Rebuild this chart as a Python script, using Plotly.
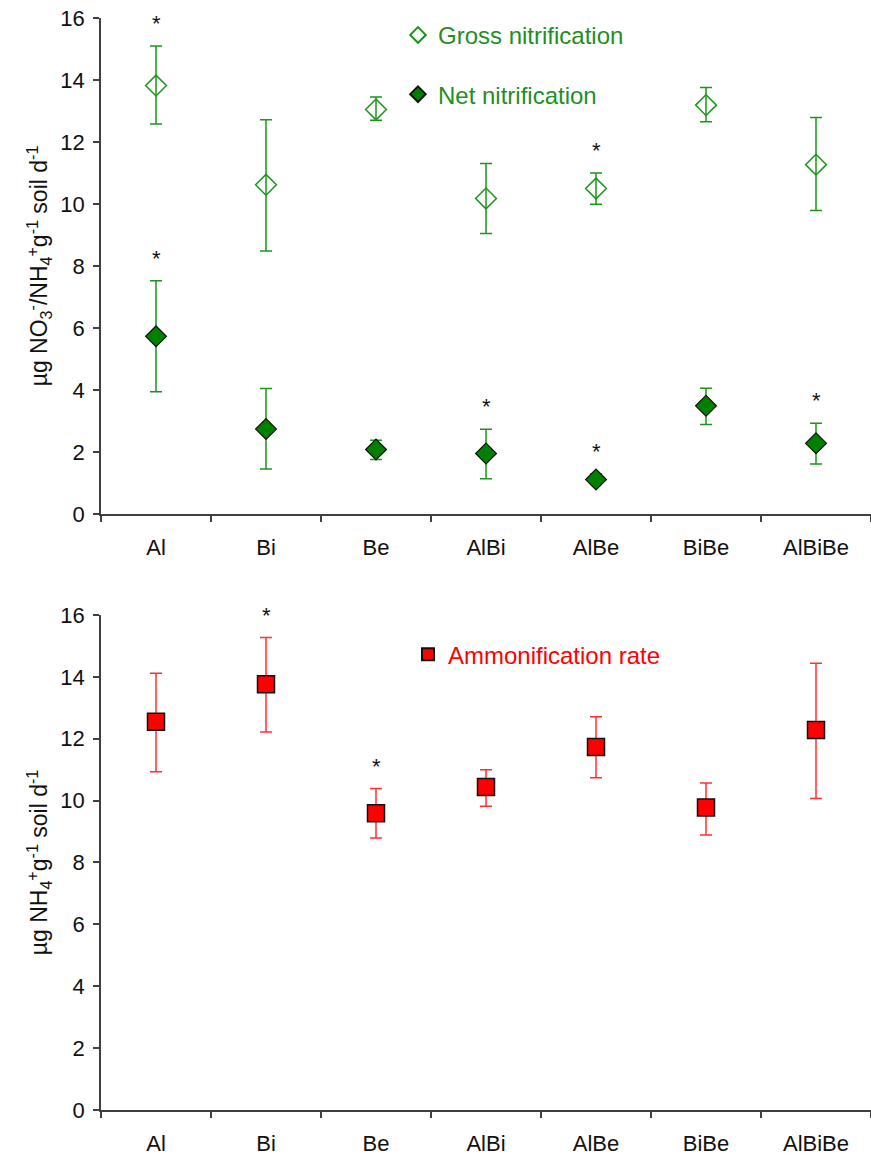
import plotly.graph_objects as go

# Treatments
treatments = ["Al", "Bi", "Be", "AlBi", "AlBe", "BiBe", "AlBiBe"]

# Gross nitrification (µg NO3-/NH4+ g-1 soil d-1): mean, upper and lower whisker ends
gross_mean = [13.82, 10.62, 13.05, 10.18, 10.50, 13.19, 11.27]
gross_hi = [15.10, 12.72, 13.45, 11.31, 11.00, 13.76, 12.79]
gross_lo = [12.58, 8.48, 12.70, 9.05, 9.99, 12.65, 9.79]
gross_sig = [True, False, False, False, True, False, False]

# Net nitrification
net_mean = [5.73, 2.74, 2.08, 1.95, 1.11, 3.49, 2.28]
net_hi = [7.52, 4.05, 2.38, 2.73, 1.30, 4.06, 2.93]
net_lo = [3.94, 1.45, 1.76, 1.14, 0.95, 2.89, 1.61]
net_sig = [True, False, False, True, True, False, True]

# Ammonification rate (µg NH4+ g-1 soil d-1)
amm_mean = [12.55, 13.76, 9.59, 10.44, 11.73, 9.78, 12.28]
amm_hi = [14.12, 15.27, 10.39, 11.00, 12.71, 10.57, 14.44]
amm_lo = [10.93, 12.22, 8.79, 9.82, 10.74, 8.89, 10.07]
amm_sig = [False, True, True, False, False, False, False]

GREEN = "#008000"
GREEN_BAR = "#1a961a"
GREEN_TXT = "#1f8f1f"
RED = "#ff0000"
RED_BAR = "#ff3030"
AXIS = "#404040"
FONT = "Liberation Sans, Arial, sans-serif"

fig = go.Figure()


def add_series(xaxis, yaxis, mean, hi, lo, name, symbol, color, line_color,
               line_w, size, bar_color, legend):
    plus = [h - m for h, m in zip(hi, mean)]
    minus = [m - l for m, l in zip(mean, lo)]
    # whiskers
    fig.add_trace(go.Scatter(
        x=treatments, y=mean, mode="markers",
        marker=dict(size=1, color="rgba(0,0,0,0)"),
        error_y=dict(type="data", symmetric=False, array=plus, arrayminus=minus,
                     color=bar_color, thickness=1.5, width=6),
        showlegend=False, hoverinfo="skip", xaxis=xaxis, yaxis=yaxis))
    # means
    fig.add_trace(go.Scatter(
        x=treatments, y=mean, mode="markers", name=name,
        marker=dict(symbol=symbol, size=size, color=color,
                    line=dict(color=line_color, width=line_w)),
        legend=legend, legendgroup=name, xaxis=xaxis, yaxis=yaxis))


add_series("x", "y", gross_mean, gross_hi, gross_lo, "Gross nitrification",
           "diamond-open", GREEN_BAR, GREEN_BAR, 1.5, 16, GREEN_BAR, "legend")
add_series("x", "y", net_mean, net_hi, net_lo, "Net nitrification",
           "diamond", GREEN, "#111111", 1.2, 16, GREEN_BAR, "legend")
add_series("x2", "y2", amm_mean, amm_hi, amm_lo, "Ammonification rate",
           "square", RED, "#111111", 1.5, 17, RED_BAR, "legend2")

# significance asterisks above the upper whiskers
STAR_FONT = dict(size=22, color="#111111", family=FONT)
annotations = []
for hi, sig in ((gross_hi, gross_sig), (net_hi, net_sig)):
    for t, h, s in zip(treatments, hi, sig):
        if s:
            annotations.append(dict(x=t, y=h, xref="x", yref="y", text="*",
                                    showarrow=False, yanchor="bottom", yshift=8,
                                    font=STAR_FONT))
for t, h, s in zip(treatments, amm_hi, amm_sig):
    if s:
        annotations.append(dict(x=t, y=h, xref="x2", yref="y2", text="*",
                                showarrow=False, yanchor="bottom", yshift=8,
                                font=STAR_FONT))

xaxis_style = dict(
    type="category", range=[-0.5, 6.5], tickson="boundaries",
    ticks="outside", ticklen=6, tickwidth=1.5, tickcolor=AXIS,
    showline=True, linecolor=AXIS, linewidth=1.5, showgrid=False, zeroline=False,
    ticklabelstandoff=13,
    tickfont=dict(size=22, color="#111111", family=FONT),
)
yaxis_style = dict(
    range=[0, 16], dtick=2, ticks="outside", ticklen=6, tickwidth=1.5,
    tickcolor=AXIS, showline=True, linecolor=AXIS, linewidth=1.5,
    showgrid=False, zeroline=False, ticklabelstandoff=4,
    tickfont=dict(size=22, color="#111111", family=FONT),
)

fig.update_layout(
    width=871, height=1158,
    margin=dict(l=101, r=0, t=18, b=48),
    paper_bgcolor="white", plot_bgcolor="white",
    font=dict(family=FONT, color="#111111"),
    xaxis=dict(xaxis_style, anchor="y"),
    yaxis=dict(yaxis_style, domain=[0.5458, 1.0], anchor="x",
               title=dict(text="µg NO<sub>3</sub><sup>-</sup>/NH<sub>4</sub><sup>+</sup>g<sup>-1</sup> soil d<sup>-1</sup>",
                          font=dict(size=23, family=FONT), standoff=6)),
    xaxis2=dict(xaxis_style, anchor="y2"),
    yaxis2=dict(yaxis_style, domain=[0.0, 0.4533], anchor="x2",
                title=dict(text="µg NH<sub>4</sub><sup>+</sup>g<sup>-1</sup> soil d<sup>-1</sup>",
                           font=dict(size=23, family=FONT), standoff=6)),
    legend=dict(x=0.3857, y=1.0047, xanchor="left", yanchor="top",
                bgcolor="rgba(0,0,0,0)", tracegroupgap=25,
                font=dict(size=24, color=GREEN_TXT, family=FONT),
                itemsizing="constant"),
    legend2=dict(x=0.3987, y=0.4377, xanchor="left", yanchor="top",
                 bgcolor="rgba(0,0,0,0)",
                 font=dict(size=24, color=RED, family=FONT),
                 itemsizing="constant"),
    annotations=annotations,
    showlegend=True,
)

fig.write_html("out.html")
